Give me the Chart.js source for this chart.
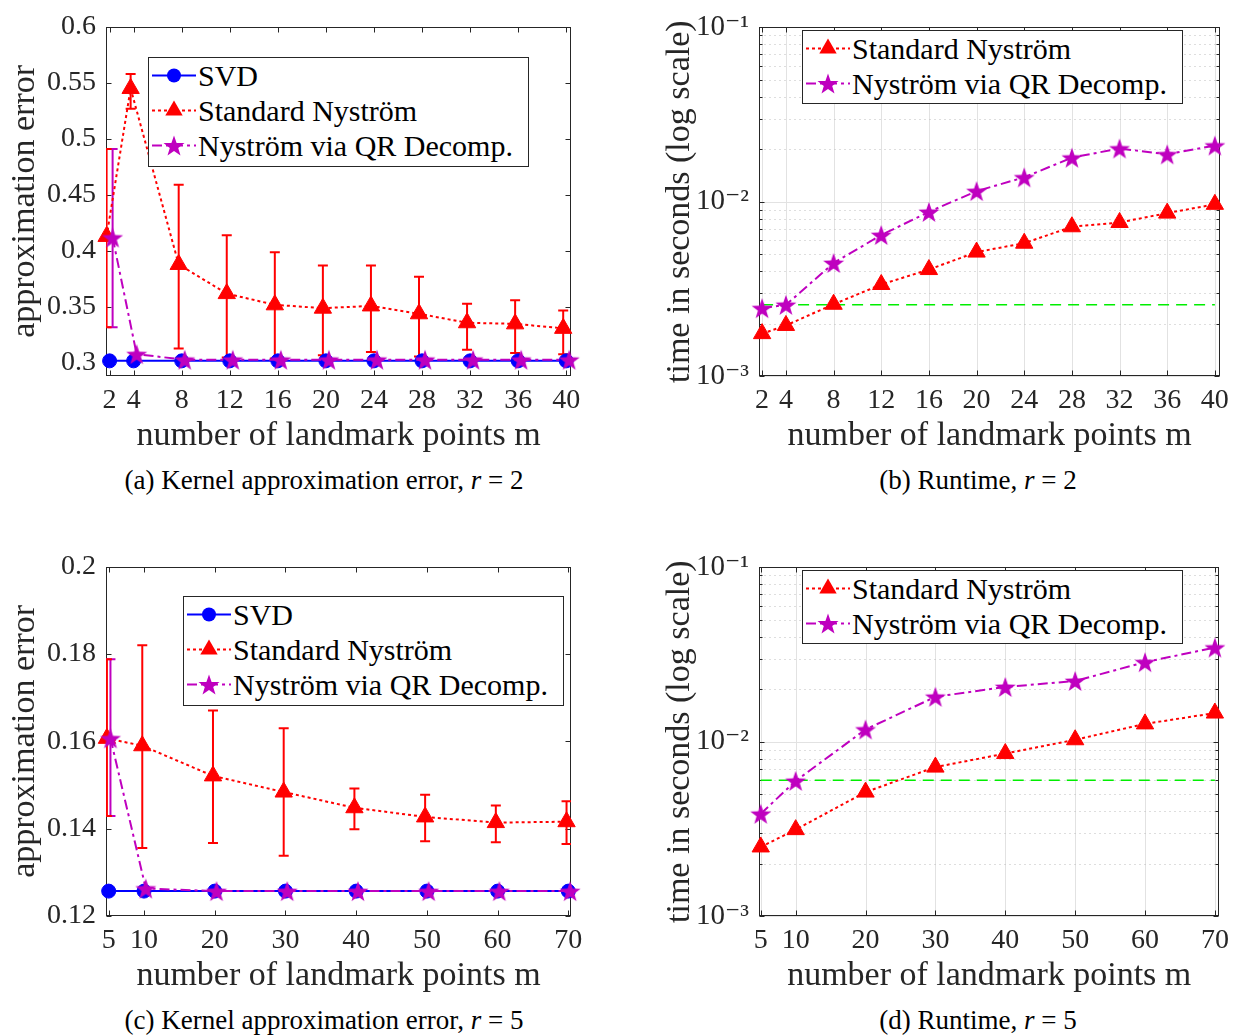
<!DOCTYPE html>
<html>
<head>
<meta charset="utf-8">
<script src="https://cdn.jsdelivr.net/npm/chart.js@4.4.0/dist/chart.umd.min.js"></script>
<style>
  body { margin: 0; background: #fff; width: 1237px; height: 1036px; position: relative; overflow: hidden;
         font-family: "Liberation Serif", "DejaVu Serif", serif; color: #262626; }
  canvas { position: absolute; }
  .legend { position: absolute; border: 1px solid #262626; background: #fff; box-sizing: border-box; font-size: 30px; color: #000; }
  .legend .row { position: absolute; left: 2px; height: 35px; display: flex; align-items: center; white-space: nowrap; }
  .legend svg { margin-right: 1px; }
  .caption { position: absolute; width: 600px; text-align: center; font-size: 27px; line-height: 27px; color: #000; white-space: nowrap; }
</style>
</head>
<body>
<canvas id="chartA" width="618" height="460" style="left:0;top:0"></canvas>
<canvas id="chartB" width="619" height="460" style="left:618px;top:0"></canvas>
<canvas id="chartC" width="618" height="460" style="left:0;top:540px"></canvas>
<canvas id="chartD" width="619" height="460" style="left:618px;top:540px"></canvas>

<div class="caption" style="left:24px;top:467px">(a) Kernel approximation error, <i>r</i> = 2</div>
<div class="caption" style="left:678px;top:467px">(b) Runtime, <i>r</i> = 2</div>
<div class="caption" style="left:24px;top:1007px">(c) Kernel approximation error, <i>r</i> = 5</div>
<div class="caption" style="left:678px;top:1007px">(d) Runtime, <i>r</i> = 5</div>

<script>
// ---- data, r = 2 ----
const mA = [2, 4, 8, 12, 16, 20, 24, 28, 32, 36, 40];
const svdErrA = [0.302, 0.302, 0.302, 0.302, 0.302, 0.302, 0.302, 0.302, 0.302, 0.302, 0.302];
const stdErrA = [0.413, 0.545, 0.388, 0.362, 0.352, 0.349, 0.351, 0.344, 0.336, 0.335, 0.331];
const stdLowA = [0.332, 0.527, 0.313, 0.305, 0.304, 0.307, 0.310, 0.306, 0.312, 0.309, 0.308];
const stdHighA = [0.491, 0.558, 0.459, 0.414, 0.399, 0.387, 0.387, 0.377, 0.353, 0.356, 0.347];
const qrErrA = [0.412, 0.308, 0.303, 0.303, 0.303, 0.303, 0.303, 0.303, 0.303, 0.303, 0.303];
const qrLowA = [0.332, null, null, null, null, null, null, null, null, null, null];
const qrHighA = [0.491, null, null, null, null, null, null, null, null, null, null];

const stdTimeB = [0.00175, 0.00195, 0.00258, 0.00335, 0.00408, 0.00514, 0.00578, 0.00718, 0.0076, 0.0086, 0.00966];
const qrTimeB = [0.00245, 0.00256, 0.00445, 0.00644, 0.00874, 0.0115, 0.0138, 0.0179, 0.0202, 0.0187, 0.021];
const svdTimeB = 0.00256;

// ---- data, r = 5 ----
const mC = [5, 10, 20, 30, 40, 50, 60, 70];
const svdErrC = [0.1257, 0.1257, 0.1257, 0.1257, 0.1257, 0.1257, 0.1257, 0.1257];
const stdErrC = [0.1607, 0.159, 0.1521, 0.1484, 0.1448, 0.1427, 0.1414, 0.1416];
const stdLowC = [0.1429, 0.1356, 0.1367, 0.1338, 0.1399, 0.1371, 0.1369, 0.1365];
const stdHighC = [0.1788, 0.182, 0.1671, 0.163, 0.1492, 0.1478, 0.1453, 0.1463];
const qrErrC = [0.1607, 0.1263, 0.1257, 0.1257, 0.1257, 0.1257, 0.1257, 0.1257];
const qrLowC = [0.1429, null, null, null, null, null, null, null];
const qrHighC = [0.1788, null, null, null, null, null, null, null];

const stdTimeD = [0.00249, 0.00313, 0.00514, 0.00715, 0.00855, 0.01026, 0.01265, 0.0146];
const qrTimeD = [0.00386, 0.00596, 0.01175, 0.0181, 0.0206, 0.0223, 0.0286, 0.0347];
const svdTimeD = 0.0060;

// tick labels / positions
const errTicksA = [0.3, 0.35, 0.4, 0.45, 0.5, 0.55, 0.6];
const errTicksC = [0.12, 0.14, 0.16, 0.18, 0.2];
const decades = [0.001, 0.01, 0.1];
const sup = {'-1': '⁻¹', '-2': '⁻²', '-3': '⁻³'};

const BLUE = '#0000ff', RED = '#ff0000', MAG = '#bf00bf', GREEN = '#00ee00', AX = '#262626';
const FONT = '"Liberation Serif", "DejaVu Serif", serif';
const SHIFT = 0.25; // the error curves are nudged sideways so the bars don't overlap

function makeStar(r, color) {
  const c = document.createElement('canvas');
  const s = Math.ceil(r * 2 + 2);
  c.width = s; c.height = s;
  const g = c.getContext('2d');
  g.beginPath();
  for (let i = 0; i < 10; i++) {
    const rr = i % 2 ? r * 0.4 : r;
    const a = -Math.PI / 2 + i * Math.PI / 5;
    const px = s / 2 + rr * Math.cos(a), py = s / 2 + rr * Math.sin(a) + r * 0.1;
    i ? g.lineTo(px, py) : g.moveTo(px, py);
  }
  g.closePath();
  g.fillStyle = color;
  g.fill();
  return c;
}
const star = makeStar(11, MAG);

function series(xs, ys, shift, color, dash, style, radius, order, lo, hi) {
  return {
    data: xs.map((m, i) => ({x: m + shift, y: ys[i]})),
    borderColor: color, backgroundColor: color, borderWidth: 2, borderDash: dash,
    pointStyle: style, pointRadius: radius, pointBorderColor: color, pointBorderWidth: 1,
    pointBackgroundColor: color, clip: false, order: order, errLow: lo, errHigh: hi
  };
}
function flat(xs, v) {
  return {
    data: [{x: xs[0], y: v}, {x: xs[xs.length - 1], y: v}],
    borderColor: GREEN, borderWidth: 1.5, borderDash: [11, 7], pointRadius: 0, order: 5
  };
}

const isDecade = v => Math.abs(Math.log10(v) - Math.round(Math.log10(v))) < 1e-6;

const axesBox = {
  id: 'axesBox',
  beforeDatasetsDraw(chart, args, opts) {
    const {ctx, chartArea: a} = chart;
    const x = chart.scales.x, y = chart.scales.y;
    const L = Math.round(a.left) + 0.5, R = Math.round(a.right) - 0.5;
    const T = Math.round(a.top) + 0.5, B = Math.round(a.bottom) - 0.5;
    const seg = (x1, y1, x2, y2) => { ctx.beginPath(); ctx.moveTo(x1, y1); ctx.lineTo(x2, y2); ctx.stroke(); };
    ctx.save();
    ctx.lineWidth = 1;
    if (opts.grid) {
      ctx.strokeStyle = '#e2e2e2';
      x.ticks.forEach(t => { const px = Math.round(x.getPixelForValue(t.value)) + 0.5; seg(px, T, px, B); });
      y.ticks.forEach(t => {
        const py = Math.round(y.getPixelForValue(t.value)) + 0.5;
        if (isDecade(t.value)) { ctx.strokeStyle = '#e2e2e2'; ctx.setLineDash([]); }
        else { ctx.strokeStyle = '#bdbdbd'; ctx.setLineDash([1, 4]); }
        seg(L, py, R, py);
      });
      ctx.setLineDash([]);
    }
    ctx.strokeStyle = AX;
    ctx.strokeRect(L, T, R - L, B - T);
    x.ticks.forEach(t => {
      const px = Math.round(x.getPixelForValue(t.value)) + 0.5;
      seg(px, B, px, B - 5); seg(px, T, px, T + 5);
    });
    y.ticks.forEach(t => {
      const py = Math.round(y.getPixelForValue(t.value)) + 0.5;
      const len = (opts.grid && !isDecade(t.value)) ? 3 : 5;
      seg(L, py, L + len, py); seg(R, py, R - len, py);
    });
    // error bars, clipped to the axes
    ctx.beginPath(); ctx.rect(a.left, a.top, a.width, a.height); ctx.clip();
    chart.data.datasets.forEach(ds => {
      if (!ds.errLow) return;
      ctx.strokeStyle = ds.borderColor; ctx.lineWidth = 2;
      ds.data.forEach((p, i) => {
        if (ds.errLow[i] == null) return;
        const px = x.getPixelForValue(p.x);
        const p1 = y.getPixelForValue(ds.errLow[i]), p2 = y.getPixelForValue(ds.errHigh[i]);
        seg(px, p1, px, p2);
        seg(px - 5, p1, px + 5, p1);
        seg(px - 5, p2, px + 5, p2);
      });
    });
    ctx.restore();
  }
};

function xScale(ms, min, max, axisH) {
  return {
    type: 'linear', min: min, max: max,
    afterBuildTicks: s => { s.ticks = ms.map(v => ({value: v})); },
    afterFit: s => { s.height = axisH; },
    grid: {display: false, drawTicks: false}, border: {display: false},
    ticks: {autoSkip: false, maxRotation: 0, padding: 8, color: AX, font: {family: FONT, size: 28}},
    title: {display: true, text: 'number of landmark points m', color: AX,
            font: {family: FONT, size: 34, lineHeight: 1}, padding: {top: 0, bottom: 7}}
  };
}

function errChart(id, ms, min, max, ymin, ymax, yTicks, sets) {
  return new Chart(document.getElementById(id), {
    type: 'line',
    data: {datasets: sets},
    options: {
      responsive: false, animation: false, devicePixelRatio: 1,
      layout: {padding: {left: 0, top: 24, right: 47, bottom: 0}},
      plugins: {legend: {display: false}, tooltip: {enabled: false}, axesBox: {grid: false}},
      scales: {
        x: xScale(ms, min, max, 84),
        y: {
          type: 'linear', min: ymin, max: ymax,
          afterBuildTicks: s => { s.ticks = yTicks.map(v => ({value: v})); },
          afterFit: s => { s.width = 106; },
          grid: {display: false, drawTicks: false}, border: {display: false},
          ticks: {autoSkip: false, padding: 10, color: AX, font: {family: FONT, size: 28},
                  callback: v => String(parseFloat(Number(v).toFixed(3)))},
          title: {display: true, text: 'approximation error', color: AX,
                  font: {family: FONT, size: 34, lineHeight: 1}, padding: {top: 8}}
        }
      }
    },
    plugins: [axesBox]
  });
}

function timeChart(id, ms, min, max, sets) {
  const logTicks = [];
  decades.forEach((d, k) => {
    logTicks.push(d);
    if (k < decades.length - 1) [2, 3, 4, 5, 6, 7, 8, 9].forEach(f => logTicks.push(d * f));
  });
  return new Chart(document.getElementById(id), {
    type: 'line',
    data: {datasets: sets},
    options: {
      responsive: false, animation: false, devicePixelRatio: 1,
      layout: {padding: {left: 0, top: 23, right: 11, bottom: 0}},
      plugins: {legend: {display: false}, tooltip: {enabled: false}, axesBox: {grid: true}},
      scales: {
        x: xScale(ms, min, max, 84),
        y: {
          type: 'logarithmic', min: 0.001, max: 0.1,
          afterBuildTicks: s => { s.ticks = logTicks.map(v => ({value: v})); },
          afterFit: s => { s.width = 141; },
          grid: {display: false, drawTicks: false}, border: {display: false},
          ticks: {autoSkip: false, padding: 10, color: AX, font: {family: FONT, size: 29},
                  callback: v => isDecade(v) ? '10' + sup[String(Math.round(Math.log10(v)))] : ''},
          title: {display: true, text: 'time in seconds (log scale)', color: AX,
                  font: {family: FONT, size: 34, lineHeight: 1}, padding: {top: 45}}
        }
      }
    },
    plugins: [axesBox]
  });
}

errChart('chartA', mA, 1.7, 40.4, 0.2885, 0.6, errTicksA, [
  series(mA, qrErrA, SHIFT, MAG, [10, 4, 3, 4], star, 11, 0, qrLowA, qrHighA),
  series(mA, stdErrA, -SHIFT, RED, [3, 3], 'triangle', 10, 1, stdLowA, stdHighA),
  series(mA, svdErrA, 0, BLUE, [], 'circle', 7, 2)
]);
timeChart('chartB', mA, 1.74, 40.44, [
  series(mA, qrTimeB, 0, MAG, [10, 4, 3, 4], star, 11, 0),
  series(mA, stdTimeB, 0, RED, [3, 3], 'triangle', 10, 1),
  flat(mA, svdTimeB)
]);
errChart('chartC', mC, 4.62, 70.38, 0.12, 0.2, errTicksC, [
  series(mC, qrErrC, SHIFT, MAG, [10, 4, 3, 4], star, 11, 0, qrLowC, qrHighC),
  series(mC, stdErrC, -SHIFT, RED, [3, 3], 'triangle', 10, 1, stdLowC, stdHighC),
  series(mC, svdErrC, 0, BLUE, [], 'circle', 7, 2)
]);
timeChart('chartD', mC, 4.75, 70.65, [
  series(mC, qrTimeD, 0, MAG, [10, 4, 3, 4], star, 11, 0),
  series(mC, stdTimeD, 0, RED, [3, 3], 'triangle', 10, 1),
  flat(mC, svdTimeD)
]);

// ---- legends (HTML boxes laid over the axes) ----
const keySVD = {label: 'SVD', color: BLUE, dash: '', marker: 'circle'};
const keyStd = {label: 'Standard Nyström', color: RED, dash: '3 3', marker: 'triangle'};
const keyQR = {label: 'Nyström via QR Decomp.', color: MAG, dash: '10 4 3 4', marker: 'star'};

function markerSvg(k) {
  if (k.marker === 'circle') return `<circle cx="23" cy="17.5" r="7" fill="${k.color}"/>`;
  if (k.marker === 'triangle') return `<polygon points="23,7.5 31.7,22.5 14.3,22.5" fill="${k.color}"/>`;
  const pts = [];
  for (let i = 0; i < 10; i++) {
    const rr = i % 2 ? 4.4 : 11, a = -Math.PI / 2 + i * Math.PI / 5;
    pts.push((23 + rr * Math.cos(a)).toFixed(1) + ',' + (18.5 + rr * Math.sin(a)).toFixed(1));
  }
  return `<polygon points="${pts.join(' ')}" fill="${k.color}"/>`;
}
function legend(left, top, width, height, keys) {
  const box = document.createElement('div');
  box.className = 'legend';
  Object.assign(box.style, {left: left + 'px', top: top + 'px', width: width + 'px', height: height + 'px'});
  keys.forEach((k, i) => {
    const row = document.createElement('div');
    row.className = 'row';
    row.style.top = (i * 35) + 'px';
    row.innerHTML = `<svg width="46" height="35"><line x1="1" y1="17.5" x2="45" y2="17.5" stroke="${k.color}" stroke-width="2" stroke-dasharray="${k.dash}"/>${markerSvg(k)}</svg><span>${k.label}</span>`;
    box.appendChild(row);
  });
  document.body.appendChild(box);
}
legend(148, 57, 381, 110, [keySVD, keyStd, keyQR]);
legend(802, 30, 381, 74, [keyStd, keyQR]);
legend(183, 596, 381, 110, [keySVD, keyStd, keyQR]);
legend(802, 570, 381, 74, [keyStd, keyQR]);
</script>
</body>
</html>
